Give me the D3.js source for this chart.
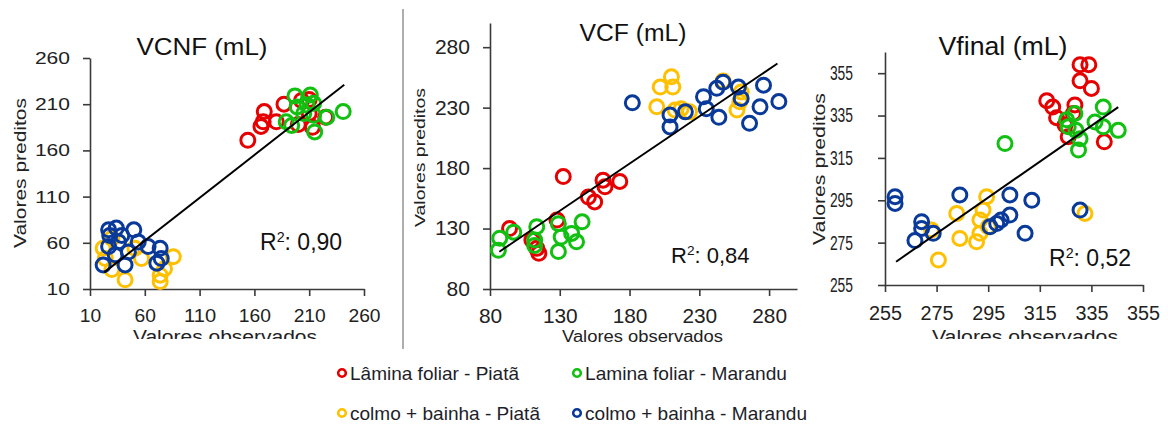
<!DOCTYPE html>
<html>
<head>
<meta charset="utf-8">
<script src="https://cdn.jsdelivr.net/npm/d3@7"></script>
<style>
  body { margin: 0; background: #fff; }
  svg { font-family: "Liberation Sans", Arial, sans-serif; }
</style>
</head>
<body>
<svg id="chart" width="1168" height="424"></svg>
<script>
// ---- data ----
const seriesNames = ["Lâmina foliar - Piatã", "Lamina foliar - Marandu", "colmo + bainha - Piatã", "colmo + bainha - Marandu"]
const seriesColors = ["#e60000", "#11c011", "#ffc000", "#0a3a99"]
const panelTitles = ["VCNF (mL)", "VCF (mL)", "Vfinal (mL)"]
const r2Values = ["0,90", "0,84", "0,52"]

const vcnfTicks = [10, 60, 110, 160, 210, 260]
const vcfTicks = [80, 130, 180, 230, 280]
const vfinalTicks = [255, 275, 295, 315, 335, 355]

// VCNF: [observado, predito]
const vcnfLaminaPiata = [[154,171],[166,186],[168,191],[169,202],[180,191],[187,210],[200,188],[203,214],[210,215],[213,185],[225,196],[210,200]]
const vcnfLaminaMarandu = [[197,219],[211,220],[214,211],[199,207],[205,200],[189,191],[194,187],[214,198],[215,180],[226,196],[241,202],[208,209]]
const vcnfColmoPiata = [[42,20],[74,18],[74,25],[86,45],[57,43],[24,43],[30,31],[22,54],[30,65],[78,32],[51,54]]
const vcnfColmoMarandu = [[22,36],[27,74],[34,76],[50,74],[27,56],[36,61],[33,47],[42,36],[54,61],[63,56],[74,54],[75,43],[71,38],[45,50],[28,68],[39,68]]
const vcnfTrend = [[23,28],[242,231]]

// VCF
const vcfLaminaPiata = [[132.5,173],[161,170],[162.4,164.5],[173,169],[150.5,156],[155,152],[128,137],[94,130],[113.5,113.6],[115,109.5],[110,120.5]]
const vcfLaminaMarandu = [[86,112],[87,122],[97,127],[113.5,131.5],[112,120.5],[112,116],[129,134],[146,135.6],[138.5,126],[142,119],[129,111],[131,123]]
const vcfColmoPiata = [[210,255.5],[202,247],[211,247],[199.5,230.7],[217,229],[223,226.5],[212.6,228],[247,252],[259,234.8],[260,243],[257,228]]
const vcfColmoMarandu = [[182,234],[209,224],[209,214],[220,226.5],[233,239],[235,229],[244,222],[247,251],[242.5,246],[258,247],[260,237.6],[276,248.6],[273.5,230.7],[266,217],[287,235]]
const vcfTrend = [[86.7,110.8],[286,266.5]]

// Vfinal
const vfinalLaminaPiata = [[330.6,359],[334,359],[330.6,351.4],[335,347.8],[317.7,342],[320,339],[321.5,334],[328.6,340],[328,336],[324.8,330.5],[326,325],[340,322.6]]
const vfinalLaminaMarandu = [[301.5,321.8],[328.6,336],[326,329.7],[329,328],[330,318.7],[330.6,324],[336.4,332],[339.6,339],[339.6,329.7],[345.4,328],[325.4,333]]
const vfinalColmoPiata = [[275.7,266.8],[284,277],[282.8,288.8],[290.5,275.4],[291.8,279.4],[291.8,285.7],[294.4,296.7],[295,282.5],[273,281],[332.5,288.8],[293,290.4]]
const vfinalColmoMarandu = [[258.9,296.7],[258.9,293.5],[269.2,284.9],[269.2,281.7],[266.6,276],[273.7,279.4],[284,297.5],[295.7,282.5],[300,285.7],[303.4,288],[303.4,297.5],[309.3,279.4],[311.9,295],[330.6,290.4],[298.3,284]]
const vfinalTrend = [[259.3,266],[345.4,339]]

// ---- layout ----
const panels = [
  { title: panelTitles[0], r2: r2Values[0], ticks: vcnfTicks, trend: vcnfTrend,
    series: [vcnfLaminaPiata, vcnfLaminaMarandu, vcnfColmoPiata, vcnfColmoMarandu],
    xd: [10, 260], yd: [10, 260], left: 90, right: 364, top: 58, bottom: 289,
    tt: {x: 202, y: 55, size: 24, len: 131},
    yl: {x: 20, y: 173, size: 17, len: 150},
    xl: {x: 225, y: 343, size: 18, len: 184, clip: true},
    yt: {size: 17, dw: 11.7, pad: 13},
    xt: {size: 18.5, dw: 10.7, base: 33},
    rr: {x: 260, y: 250, size: 23} },
  { title: panelTitles[1], r2: r2Values[1], ticks: vcfTicks, trend: vcfTrend,
    series: [vcfLaminaPiata, vcfLaminaMarandu, vcfColmoPiata, vcfColmoMarandu],
    xd: [80, 300], yd: [80, 300], left: 490, right: 797, top: 23, bottom: 289,
    tt: {x: 633, y: 41, size: 23, len: 107},
    yl: {x: 419, y: 157.5, size: 15, len: 139},
    xl: {x: 642.5, y: 342, size: 16, len: 161, clip: false},
    yt: {size: 20, dw: 11.7, pad: 13},
    xt: {size: 21, dw: 11.6, base: 34},
    rr: {x: 671, y: 263, size: 22} },
  { title: panelTitles[2], r2: r2Values[2], ticks: vfinalTicks, trend: vfinalTrend,
    series: [vfinalLaminaPiata, vfinalLaminaMarandu, vfinalColmoPiata, vfinalColmoMarandu],
    xd: [255, 355], yd: [255, 365], left: 885, right: 1143, top: 52, bottom: 285,
    tt: {x: 1003, y: 55, size: 25, len: 129},
    yl: {x: 819.5, y: 169, size: 16, len: 152},
    xl: {x: 1025, y: 343, size: 18, len: 186, clip: true},
    yt: {size: 20, dw: 7.7, pad: 25},
    xt: {size: 20, dw: 11, base: 35},
    rr: {x: 1049, y: 266, size: 23} }
]

const svg = d3.select("#chart")
svg.append("rect").attr("width", 1168).attr("height", 424).attr("fill", "#fff")
svg.append("defs").append("clipPath").attr("id", "cut")
  .append("rect").attr("x", 0).attr("y", 0).attr("width", 1168).attr("height", 339)

// separator between first and second panel
svg.append("line")
  .attr("x1", 403).attr("x2", 403).attr("y1", 9).attr("y2", 349)
  .attr("stroke", "#9a9a9a").attr("stroke-width", 1.6)

panels.forEach(p => {
  const x = d3.scaleLinear().domain(p.xd).range([p.left, p.right])
  const y = d3.scaleLinear().domain(p.yd).range([p.bottom, p.top])
  const g = svg.append("g")

  // axes
  const yAxis = g.append("g")
    .attr("transform", "translate(" + p.left + ",0)")
    .call(d3.axisLeft(y).tickValues(p.ticks).tickSize(7).tickPadding(p.yt.pad).tickSizeOuter(0))
  const xAxis = g.append("g")
    .attr("transform", "translate(0," + p.bottom + ")")
    .call(d3.axisBottom(x).tickValues(p.ticks).tickSize(7).tickSizeOuter(0))
  ;[yAxis, xAxis].forEach(a => {
    a.select(".domain").attr("stroke", "#3a3a3a").attr("stroke-width", 1.6)
    a.selectAll(".tick line").attr("stroke", "#3a3a3a").attr("stroke-width", 1.6)
    a.selectAll("text").attr("fill", "#222").attr("font-family", "Liberation Sans, Arial, sans-serif")
  })
  yAxis.selectAll("text")
    .attr("font-size", p.yt.size)
    .attr("textLength", d => String(d).length * p.yt.dw)
    .attr("lengthAdjust", "spacingAndGlyphs")
  xAxis.selectAll("text")
    .attr("font-size", p.xt.size)
    .attr("y", p.xt.base).attr("dy", 0)
    .attr("textLength", d => String(d).length * p.xt.dw)
    .attr("lengthAdjust", "spacingAndGlyphs")

  // points, one series after the other
  p.series.forEach((pts, si) => {
    g.append("g").selectAll("circle").data(pts).join("circle")
      .attr("cx", d => x(d[0]))
      .attr("cy", d => y(d[1]))
      .attr("r", 7)
      .attr("fill", "none")
      .attr("stroke", seriesColors[si])
      .attr("stroke-width", 3)
  })

  // trend line
  g.append("path")
    .datum(p.trend)
    .attr("d", d3.line().x(d => x(d[0])).y(d => y(d[1])))
    .attr("stroke", "#000").attr("stroke-width", 2).attr("fill", "none")

  // texts
  g.append("text")
    .attr("x", p.tt.x).attr("y", p.tt.y)
    .attr("text-anchor", "middle")
    .attr("font-size", p.tt.size)
    .attr("textLength", p.tt.len).attr("lengthAdjust", "spacingAndGlyphs")
    .attr("fill", "#111")
    .text(p.title)

  g.append("text")
    .attr("transform", "translate(" + p.yl.x + "," + p.yl.y + ") rotate(-90)")
    .attr("text-anchor", "middle")
    .attr("dominant-baseline", "central")
    .attr("font-size", p.yl.size)
    .attr("textLength", p.yl.len).attr("lengthAdjust", "spacingAndGlyphs")
    .attr("fill", "#222")
    .text("Valores preditos")

  g.append("text")
    .attr("x", p.xl.x).attr("y", p.xl.y)
    .attr("text-anchor", "middle")
    .attr("font-size", p.xl.size)
    .attr("textLength", p.xl.len).attr("lengthAdjust", "spacingAndGlyphs")
    .attr("fill", "#222")
    .attr("clip-path", p.xl.clip ? "url(#cut)" : null)
    .text("Valores observados")

  const r2 = g.append("text")
    .attr("x", p.rr.x).attr("y", p.rr.y)
    .attr("font-size", p.rr.size)
    .attr("fill", "#111")
  r2.append("tspan").text("R")
  r2.append("tspan").attr("dy", -8).attr("font-size", p.rr.size * 0.62).text("2")
  r2.append("tspan").attr("dy", 8).text(": " + p.r2)
})

// legend
const legendPos = [[342, 373], [577, 373], [342, 413], [577, 413]]
const legend = svg.append("g").selectAll("g").data(seriesNames).join("g")
  .attr("transform", (d, i) => "translate(" + legendPos[i][0] + "," + legendPos[i][1] + ")")
legend.append("circle")
  .attr("r", 3.8)
  .attr("fill", "none")
  .attr("stroke", (d, i) => seriesColors[i])
  .attr("stroke-width", 2.6)
legend.append("text")
  .attr("x", 8).attr("y", 6.5)
  .attr("font-size", 18.5)
  .attr("fill", "#1e1e2a")
  .attr("textLength", (d, i) => [169, 202, 190, 222][i])
  .attr("lengthAdjust", "spacingAndGlyphs")
  .text(d => d)
</script>
</body>
</html>
